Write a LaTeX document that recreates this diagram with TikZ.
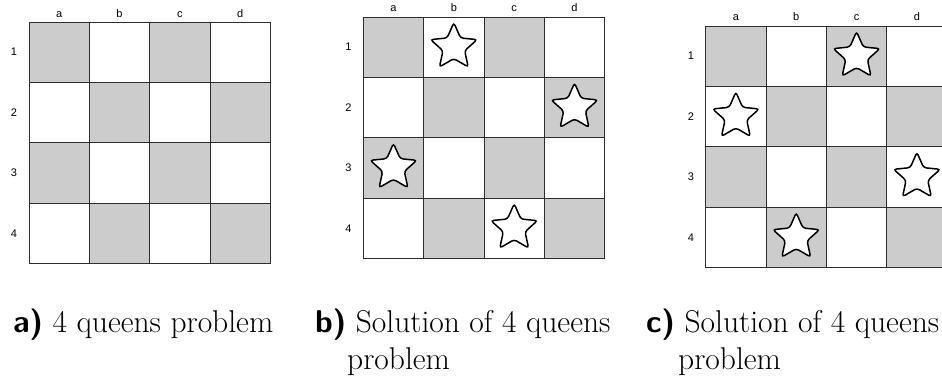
\documentclass[tikz,border=0pt]{standalone}
\usepackage{fontspec}
\newfontfamily\labelfont{Liberation Sans}
\usetikzlibrary{shapes.geometric}
\definecolor{cellgray}{RGB}{204,204,204}
\definecolor{gridline}{RGB}{45,45,45}
\tikzset{
  cell/.style={draw=gridline, line width=0.9pt, minimum size=60.35pt, inner sep=0pt, outer sep=0pt, anchor=north west},
  dark/.style={cell, fill=cellgray},
  light/.style={cell, fill=white},
  collbl/.style={font=\labelfont\fontsize{11}{13}\selectfont, inner sep=0pt, anchor=base},
  rowlbl/.style={font=\labelfont\fontsize{11}{13}\selectfont, inner sep=0pt, anchor=center},
  queen/.style={star, star points=5, star point ratio=2.15, draw=black, fill=white, line width=1.5pt, minimum size=49pt, inner sep=0pt, rounded corners=2.8pt},
  captxt/.style={font=\fontsize{31.5}{38}\selectfont, anchor=base west, inner sep=0pt},
}
% #1 name, #2 left x, #3 top y, #4 column-label baseline y, #5 row-label x
\newcommand\qboard[5]{%
  \foreach \r in {1,...,4}{%
    \foreach \c/\l in {1/a,2/b,3/c,4/d}{%
      \ifodd\numexpr\r+\c\relax\def\cellsty{light}\else\def\cellsty{dark}\fi
      \node[\cellsty] (#1-\l\r) at ({#2+(\c-1)*60.35},{#3+(\r-1)*60.35}) {};
    }%
  }%
  \foreach \c/\l in {1/a,2/b,3/c,4/d}{%
    \node[collbl] (#1-col\l) at ({#2+(\c-0.5)*60.35},#4) {\l};
  }%
  \foreach \r in {1,...,4}{%
    \node[rowlbl] (#1-row\r) at (#5,{#3+(\r-0.5)*60.35}) {\r};
  }%
}
\begin{document}
\begin{tikzpicture}[x=1pt,y=-1pt]
  \useasboundingbox (0,0) rectangle (942,378);
  \clip (0,0) rectangle (942,378);
  \qboard{A}{29}{22}{17.3}{14}
  \qboard{B}{363.3}{17}{11}{348.5}
  \qboard{C}{705.7}{26}{20}{691}
  % queens, board b
  \node[queen] (Bq1) at (B-b1.center) {};
  \node[queen] (Bq2) at (B-d2.center) {};
  \node[queen] (Bq3) at (B-a3.center) {};
  \node[queen] (Bq4) at (B-c4.center) {};
  % queens, board c
  \node[queen] (Cq1) at (C-c1.center) {};
  \node[queen] (Cq2) at (C-a2.center) {};
  \node[queen] (Cq3) at (C-d3.center) {};
  \node[queen] (Cq4) at (C-b4.center) {};
  % captions
  \node[captxt] (capA) at (13,332) {\textsf{\textbf{a)}} 4 queens problem};
  \node[captxt] (capB) at (315,332) {\textsf{\textbf{b)}} Solution of 4 queens};
  \node[captxt] (capB2) at (347,369.5) {problem};
  \node[captxt] (capC) at (646,332) {\textsf{\textbf{c)}} Solution of 4 queens};
  \node[captxt] (capC2) at (678,369.5) {problem};
\end{tikzpicture}
\end{document}
